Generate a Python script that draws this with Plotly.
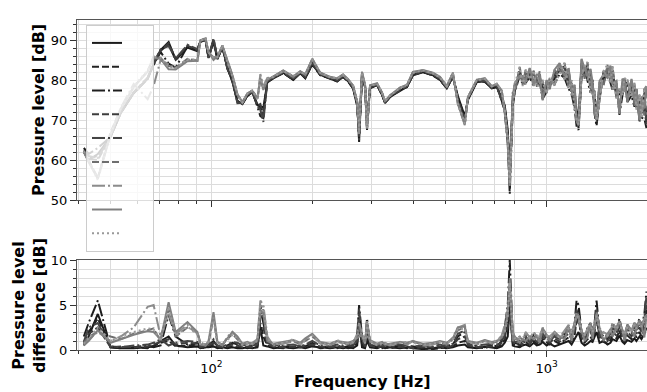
import plotly.graph_objects as go

# ---------------- data ----------------
freq_hz = [
    41.6, 43.0, 45.8, 50.0, 53.6, 58.6, 64.5, 67.2, 70.5, 74.5,
    78.2, 84.8, 90.8, 92.7, 96.0, 98.0, 101.4, 104.2, 107.8, 111.6,
    115.5, 119.5, 123.7, 128.0, 132.4, 137.1, 139.9, 142.8, 146.8, 153.0,
    163.7, 175.4, 184.0, 190.5, 199.9, 211, 225.9, 237.1, 247, 255.7,
    264.7, 272.1, 275.7, 281.3, 287.2, 291.1, 297.2, 311.9, 322.8, 329.5,
    341, 365.2, 383.1, 399, 427.5, 458, 480.5, 503.6, 525, 543.4,
    570, 581.9, 619, 653.8, 685.6, 709.9, 734.6, 749.9, 765.5, 776.1,
    792.3, 803.1, 831.3, 848, 866, 890, 915, 934, 953, 973,
    1000, 1021, 1056, 1093, 1131, 1163, 1187, 1212, 1228, 1245,
    1271, 1298, 1324, 1352, 1371, 1390, 1409, 1438, 1478, 1519,
    1550, 1572, 1616, 1649, 1684, 1707, 1742, 1791, 1828, 1853,
    1892, 1918, 1957, 1985]

# reference pressure level [dB]
reference_db = [
    61.5, 58.5, 57.5, 65.5, 71.5, 76.5, 80.0, 83.5, 86.5, 88.0,
    84.6, 87.8, 86.8, 89.3, 89.8, 86.0, 89.2, 85.0, 88.0, 83.3,
    79.2, 75.0, 73.8, 75.8, 76.7, 74.2, 76.0, 73.5, 79.0, 80.2,
    81.5, 79.8, 81.4, 80.2, 83.5, 81.0, 80.1, 79.4, 80.5, 79.4,
    77.6, 73.0, 69.5, 80.3, 78.0, 71.0, 77.6, 78.5, 76.0, 74.0,
    75.5, 77.2, 78.0, 81.0, 81.8, 81.0, 79.8, 77.7, 80.5, 76.5,
    71.5, 74.7, 79.3, 79.3, 77.6, 78.0, 75.8, 74.5, 69.0, 61.5,
    75.0, 77.7, 81.8, 79.8, 80.8, 81.5, 80.3, 79.8, 80.6, 77.3,
    78.3, 79.0, 80.6, 82.7, 82.3, 80.3, 78.1, 75.8, 74.0, 72.5,
    83.1, 81.8, 82.3, 79.8, 78.1, 74.5, 74.0, 77.3, 80.3, 82.3,
    81.3, 80.6, 77.3, 74.8, 78.1, 78.8, 77.3, 78.1, 76.3, 75.2,
    73.2, 73.1, 74.3, 74.5]

# signed deviation of each measurement from the reference [dB]
dev_s1 = [
    0.5, 1.5, 4.0, 0.3, 0.2, 0.2, 0.3, 0.4, 1.0, 1.5,
    0.5, 0.3, 0.4, 0.2, 0.3, -0.3, 0.4, 0.2, 0.3, -0.2,
    0.3, -0.2, 0.2, 0.3, 0.2, -0.3, -2.5, -0.5, 0.4, 0.2,
    0.3, 0.2, 0.3, 0.2, 0.4, 0.3, 0.2, 0.3, 0.2, 0.3,
    0.2, 0.5, -3.0, 0.3, 0.2, -1.0, 0.3, 0.2, 0.4, 0.2,
    0.3, 0.2, 0.3, 0.2, 0.1, 0.2, 0.3, 0.2, 0.3, -0.5,
    -0.6, 0.3, 0.2, 0.4, 0.3, 0.2, -0.4, -0.8, -1.5, -5.0,
    -0.5, 0.4, -0.3, 0.5, -0.6, 0.4, -0.8, 0.5, -0.6, 0.9,
    -0.5, 0.7, -0.4, 0.6, -0.8, 1.0, -0.6, 1.2, -1.5, -2.0,
    0.8, -0.5, 0.7, -1.0, 0.9, -1.5, -2.0, 0.8, -1.0, 0.6,
    -0.8, 1.2, -1.0, 1.6, -0.9, 0.7, -1.1, 0.9, -1.3, 1.0,
    -1.5, 1.2, -1.8, -2.5]
dev_s2 = [
    0.8, 2.0, 3.5, 0.4, 0.3, 0.3, 0.2, 0.5, 0.8, 1.0,
    0.4, 0.5, 0.6, 0.3, 0.2, -0.4, 0.6, 0.3, 0.2, -0.3,
    0.4, -0.3, 0.3, 0.2, 0.3, -0.4, -3.0, -1.5, 0.5, 0.3,
    0.2, 0.3, 0.4, 0.3, 0.5, 0.2, 0.3, 0.2, 0.4, 0.2,
    0.3, 0.8, -4.0, 0.6, 0.3, -1.5, 0.4, 0.3, 0.2, 0.3,
    0.2, 0.4, 0.2, 0.3, 0.2, 0.1, 0.2, 0.3, 0.4, -0.8,
    -1.0, 0.4, 0.3, 0.2, 0.5, 0.3, -0.6, -1.2, -3.0, -6.0,
    -0.8, -0.5, 0.4, -0.6, 0.9, -0.5, 1.0, -0.7, 0.5, -1.2,
    0.8, -0.6, 1.0, -0.7, 1.1, -1.4, 0.9, -1.6, -3.5, -4.5,
    -1.0, 0.8, -1.2, 1.5, -1.0, 2.0, -4.0, -1.2, 0.9, -0.7,
    1.1, -1.6, 1.3, -2.2, 1.0, -0.9, 1.6, -1.2, 1.8, -1.4,
    2.0, -1.5, 2.5, -4.5]
dev_s3 = [
    1.5, 3.0, 5.5, 0.3, 0.2, 0.3, 0.5, 0.3, 0.5, -3.9,
    -1.5, 0.6, 0.8, 0.4, 0.3, -0.5, 1.0, 0.4, 0.3, -0.5,
    0.8, -0.6, 0.4, 0.3, 0.5, -0.8, -5.0, -3.0, 1.0, 0.5,
    0.4, 0.3, 0.5, 0.4, 0.8, 0.3, 0.4, 0.5, 0.3, 0.4,
    0.5, 1.5, -5.0, 1.5, 0.5, -3.5, 0.6, 0.4, 0.3, 0.5,
    0.3, 0.5, 0.3, 0.4, 0.3, 0.2, 0.3, 0.5, 0.6, -1.5,
    -2.0, 0.6, 0.4, 0.3, 0.6, 0.4, -1.0, -2.5, -5.0, -10.0,
    -1.5, -0.8, -0.6, -1.0, -1.5, -0.8, -1.8, -1.2, -1.0, -2.0,
    -1.2, 1.0, -1.6, -1.2, -1.8, -2.5, -1.5, -3.0, -5.5, -5.0,
    -2.0, 1.5, -2.5, -3.0, 2.0, -3.0, -5.5, -2.0, 1.5, -1.2,
    -2.0, -3.0, 2.2, -3.5, -1.8, 1.5, -2.8, -2.0, -3.0, 2.5,
    -3.5, -2.5, -4.0, -6.5]
dev_s4 = [
    0.6, 1.8, 2.5, 0.3, 0.4, 0.3, 0.4, 0.6, 0.9, 1.2,
    0.6, 0.8, 0.7, 0.3, 0.4, -0.5, 0.8, 0.4, 0.3, -0.4,
    0.6, -0.5, 0.3, 0.4, 0.3, -0.6, -2.0, -2.5, 0.6, 0.4,
    0.3, 0.4, 0.3, 0.5, 0.6, 0.4, 0.3, 0.4, 0.3, 0.5,
    0.4, 1.0, -3.0, 1.0, 0.4, -2.5, 0.5, 0.3, 0.4, 0.4,
    0.4, 0.3, 0.4, 0.2, 0.3, 0.3, 0.4, 0.2, 0.5, -1.2,
    -1.5, 0.5, 0.3, 0.4, 0.4, 0.5, -0.8, -1.5, -2.5, -4.0,
    1.0, -0.6, 0.8, -0.5, 1.2, -0.6, 1.3, -0.9, 0.8, -1.5,
    1.0, -0.8, 1.3, -0.9, 1.5, -1.8, 1.2, -2.0, -3.0, -3.5,
    1.4, -1.0, 1.6, -2.0, 1.5, -2.4, -3.5, 1.5, -1.2, 1.0,
    -1.5, 2.0, -1.6, 2.6, -1.4, 1.2, -2.0, 1.5, -2.2, 1.8,
    -2.5, 2.0, -3.0, -5.0]
dev_s5 = [
    0.9, 2.5, 3.0, 0.4, 0.3, 0.5, 0.6, 0.8, 1.2, 0.5,
    0.8, 1.0, 0.9, 0.4, 0.5, -0.6, 1.2, 0.5, 0.4, -0.6,
    0.9, -0.8, 0.5, 0.6, 0.4, -0.7, -3.5, -4.0, 0.8, 0.5,
    0.5, 0.6, 0.4, 0.6, 1.0, 0.5, 0.4, 0.6, 0.5, 0.6,
    0.6, 1.2, -4.5, 1.2, 0.6, -3.0, 0.7, 0.5, 0.6, 0.5,
    0.5, 0.6, 0.5, 0.4, 0.5, 0.4, 0.6, 0.4, 0.7, -1.8,
    -2.2, 0.7, 0.5, 0.6, 0.7, 0.6, -1.2, -2.0, -4.0, -7.0,
    -1.2, 0.9, -1.0, 0.8, -1.5, 0.9, -1.6, 1.1, -1.2, 1.8,
    -1.3, 1.1, -1.5, 1.2, -1.9, 2.2, -1.6, 2.5, -4.5, -4.0,
    -1.6, 1.3, -2.0, 2.5, -1.7, 2.8, -4.5, -1.8, 1.4, -1.3,
    1.8, -2.5, 1.9, -3.0, 1.6, -1.4, 2.4, -1.8, 2.6, -2.2,
    3.0, -2.2, 3.5, -6.0]
dev_s6 = [
    0.8, 1.5, -2.0, 1.5, 1.2, 1.8, 2.2, 2.4, -1.0, -4.5,
    -1.5, -2.5, -2.0, 0.8, 0.6, 0.8, -3.5, 0.7, 0.6, 1.2,
    1.8, 1.2, 0.6, 0.8, 0.7, 1.0, 4.0, 4.5, 1.2, 0.6,
    0.8, 0.9, 0.7, 1.0, 1.5, 0.8, 0.6, 0.9, 0.8, 0.7,
    0.9, 1.5, -2.5, 1.5, 0.8, -3.0, 0.9, 0.6, 0.8, 0.7,
    0.6, 0.8, 0.7, 0.9, 0.6, 0.7, 0.8, 0.6, 1.2, -2.2,
    -2.5, 0.9, 0.7, 1.0, 0.8, 0.9, 1.5, -2.5, -4.0, -7.0,
    2.0, -1.2, 1.5, -1.0, 1.8, -1.2, 2.0, -1.4, 1.6, -2.2,
    1.5, -1.3, 1.8, -1.2, 2.0, -2.5, 1.8, -2.8, -4.0, -3.5,
    2.0, -1.5, 2.2, -2.8, 2.0, -2.5, -4.0, 2.2, -1.8, 1.5,
    -2.0, 2.8, -2.2, 3.0, -2.0, 1.6, -2.6, 2.0, -2.8, 2.4,
    -3.0, 2.5, -3.2, 3.5]
dev_s7 = [
    0.6, 1.2, -2.0, 1.0, 1.5, 2.5, -4.8, -5.0, -1.5, -4.0,
    -1.8, -2.8, -1.8, 0.7, 0.5, 0.9, -3.8, 0.8, 0.5, 1.5,
    2.0, 1.4, 0.5, 0.7, 0.8, 1.2, 5.5, 5.0, 1.5, 0.5,
    0.7, 1.0, 0.6, 1.2, 1.8, 0.7, 0.5, 1.0, 0.7, 0.6,
    0.8, 1.8, -3.0, 1.8, 0.7, -3.2, 1.0, 0.5, 0.7, 0.8,
    0.5, 0.9, 0.6, 1.0, 0.5, 0.6, 0.9, 0.7, 1.4, -2.5,
    -2.8, 1.0, 0.6, 1.1, 0.7, 1.0, 1.6, -2.8, -4.5, -7.5,
    -2.2, 1.4, -1.2, 1.1, -2.0, 1.4, -1.8, 1.6, -1.4, 2.5,
    -1.6, 1.5, -2.0, 1.4, -2.2, 2.8, -2.0, 3.0, -4.2, -3.8,
    -2.2, 1.6, -2.4, 3.0, -2.2, 2.8, -4.2, -2.4, 2.0, -1.7,
    2.2, -3.0, 2.4, -3.2, 2.2, -1.8, 2.8, -2.2, 3.0, -2.6,
    3.2, -2.7, 3.5, 4.0]
dev_s8 = [
    0.5, 1.0, -2.2, 0.8, 1.2, 1.7, 2.1, 2.0, -1.2, -5.3,
    -2.0, -3.1, -2.0, 0.6, 0.5, 1.0, -4.2, 0.9, 0.6, 1.3,
    2.0, 1.5, 0.7, 0.9, 0.6, 1.1, 4.5, 4.0, 1.0, 0.7,
    0.9, 1.1, 0.8, 1.3, 1.8, 0.9, 0.7, 1.0, 0.9, 0.8,
    1.0, 1.4, -1.5, 1.6, 0.9, -3.0, 1.1, 0.7, 0.9, 0.6,
    0.7, 0.9, 0.8, 1.0, 0.7, 0.8, 1.0, 0.8, 1.3, -2.5,
    -2.6, 1.0, 0.8, 1.1, 0.9, 1.0, 1.4, -2.2, -4.0, -8.0,
    1.0, 1.5, -0.8, 1.2, -1.0, 1.5, -1.2, 1.6, 0.8, -2.4,
    1.7, -1.0, 2.0, 1.5, -1.2, 2.6, -1.0, 3.0, -4.0, -3.8,
    2.2, 1.0, -1.4, 3.0, 1.2, -2.8, -4.0, 2.5, 1.0, -1.8,
    2.3, -1.5, 2.5, -3.2, 2.2, 1.0, -2.8, 2.2, -1.5, 2.6,
    -3.3, 2.8, -1.4, 3.9]
dev_s9 = [
    0.7, 1.3, -2.5, 1.0, 1.5, 2.0, 2.4, 2.3, -1.0, -4.8,
    -1.6, -2.6, -1.7, 0.5, 0.7, 0.9, -3.6, 0.6, 0.8, 1.1,
    1.7, 1.3, 0.6, 0.8, 0.7, 1.0, 5.0, 4.8, 1.3, 0.6,
    0.8, 1.2, 0.7, 1.1, 1.6, 0.8, 0.6, 1.1, 0.8, 0.7,
    0.9, 1.6, -2.0, 1.7, 0.8, -3.0, 1.0, 0.6, 0.8, 0.7,
    0.6, 0.8, 0.9, 0.8, 0.6, 0.7, 0.9, 0.7, 1.2, -2.3,
    -2.4, 0.9, 0.7, 1.0, 0.8, 1.1, 1.5, -2.0, -3.8, -7.5,
    -1.8, 1.3, 1.4, -1.3, 1.9, -1.3, 2.0, -1.5, -1.7, 2.2,
    -1.6, 1.4, -1.9, -1.3, 2.0, -2.4, 1.9, -2.8, -3.8, -3.6,
    -2.0, 1.7, 2.2, -2.8, -2.0, 2.6, -3.8, -2.3, 1.9, 1.6,
    -2.1, 2.8, -2.3, 3.0, -2.0, 1.7, 2.6, -2.0, 2.8, -2.4,
    3.0, -2.6, 3.2, 3.6]

series_devs = [dev_s1, dev_s2, dev_s3, dev_s4, dev_s5, dev_s6, dev_s7, dev_s8, dev_s9]
series_colors = ["#1a1a1a", "#222222", "#1e1e1e", "#3c3c3c", "#444444",
                 "#6e6e6e", "#8c8c8c", "#808080", "#999999"]
series_dashes = ["solid", "7px,3px", "13px,3px,2px,3px", "7px,3px", "13px,3px,2px,3px",
                 "7px,3px", "13px,3px,2px,3px", "solid", "2px,3px"]

x_major_ticks = [100, 1000]
x_major_text = ["10<sup>2</sup>", "10<sup>3</sup>"]
x_minor_ticks = [40, 50, 60, 70, 80, 90, 200, 300, 400, 500, 600, 700, 800, 900, 2000]

for d in series_devs:
    assert len(d) == len(freq_hz)
assert len(reference_db) == len(freq_hz)

# ---------------- figure ----------------
FONT = "DejaVu Sans"
GRID = "#dcdcdc"
LINE = "#555555"
LEGEND_PAD = "\u00a0" * 4

fig = go.Figure()
for dev, color, dash in zip(series_devs, series_colors, series_dashes):
    level = [r + d for r, d in zip(reference_db, dev)]
    diff = [abs(d) for d in dev]
    fig.add_trace(go.Scatter(x=freq_hz, y=level, xaxis="x2", yaxis="y2", mode="lines",
                             line=dict(color=color, width=2, dash=dash), name=LEGEND_PAD,
                             showlegend=True, hoverinfo="skip"))
    fig.add_trace(go.Scatter(x=freq_hz, y=diff, xaxis="x", yaxis="y", mode="lines",
                             line=dict(color=color, width=2, dash=dash), name=LEGEND_PAD,
                             showlegend=False, hoverinfo="skip"))

xcommon = dict(type="log", range=[1.5988, 3.2994], tickmode="array",
               tickvals=x_major_ticks, ticktext=x_major_text,
               ticks="outside", ticklen=6, tickcolor="#333333",
               showline=True, linecolor=LINE, linewidth=1, mirror=True,
               showgrid=True, gridcolor=GRID, gridwidth=1, zeroline=False,
               minor=dict(tickmode="array", tickvals=x_minor_ticks, ticks="outside",
                          ticklen=3, tickcolor="#333333", showgrid=True,
                          gridcolor=GRID, gridwidth=1))

ycommon = dict(ticks="outside", ticklen=6, tickcolor="#333333",
               tickfont=dict(family=FONT, size=13, color="black"),
               showline=True, linecolor=LINE, linewidth=1,
               showgrid=True, gridcolor=GRID, gridwidth=1, zeroline=False)

H_PLOT = 330.0
fig.update_layout(
    width=647, height=392,
    margin=dict(l=77, r=0, t=20, b=42),
    template="none",
    plot_bgcolor="white", paper_bgcolor="white",
    font=dict(family=FONT, size=13, color="black"),
    xaxis=dict(anchor="y", domain=[0, 1],
               tickfont=dict(family=FONT, size=13, color="black"), **xcommon),
    xaxis2=dict(anchor="y2", domain=[0, 1], matches="x", showticklabels=False, **xcommon),
    yaxis=dict(anchor="x", domain=[0, 90 / H_PLOT], range=[0, 10],
               tickvals=[0, 5, 10],
               minor=dict(dtick=1, ticks="outside", ticklen=3, tickcolor="#333333",
                          showgrid=True, gridcolor=GRID, gridwidth=1),
               **ycommon),
    yaxis2=dict(anchor="x2", domain=[150 / H_PLOT, 1], range=[50, 95],
                tickvals=[50, 60, 70, 80, 90],
                minor=dict(dtick=2, ticks="outside", ticklen=3, tickcolor="#333333",
                           showgrid=True, gridcolor=GRID, gridwidth=1),
                **ycommon),
    legend=dict(x=(86 - 77) / 570, y=(350 - 25) / H_PLOT, xanchor="left", yanchor="top",
                bgcolor="rgba(255,255,255,0.8)", bordercolor="#cccccc", borderwidth=1,
                font=dict(family=FONT, size=16), tracegroupgap=0, itemwidth=30),
    showlegend=True,
    annotations=[
        dict(text="<b>Pressure level [dB]</b>", xref="paper", yref="paper",
             x=(38 - 77) / 570, y=(350 - 110) / H_PLOT, textangle=-90, showarrow=False,
             xanchor="center", yanchor="middle", font=dict(family=FONT, size=16, color="black")),
        dict(text="<b>Pressure level<br>difference [dB]</b>", xref="paper", yref="paper",
             x=(29 - 77) / 570, y=(350 - 306) / H_PLOT, textangle=-90, showarrow=False,
             xanchor="center", yanchor="middle", font=dict(family=FONT, size=16, color="black")),
        dict(text="<b>Frequency [Hz]</b>", xref="paper", yref="paper",
             x=0.5, y=(350 - 381) / H_PLOT, showarrow=False,
             xanchor="center", yanchor="middle", font=dict(family=FONT, size=16, color="black")),
    ],
)

fig.write_html("out.html")
